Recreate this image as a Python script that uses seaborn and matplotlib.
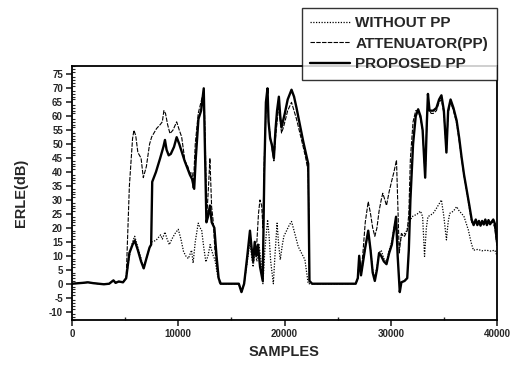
import numpy as np
import pandas as pd
import matplotlib
matplotlib.use("Agg")
import matplotlib.pyplot as plt
import seaborn as sns
from matplotlib.ticker import MultipleLocator

# ---- data ----
base_x = [0, 1000, 1500, 2000, 2500, 3000, 3500, 3900, 4100, 4400, 4800, 5100]
base_y = [0.0, 0.3, 0.5, 0.2, 0.0, -0.2, 0.0, 1.2, 0.3, 0.8, 0.5, 2.0]

proposed_x = base_x + [5400, 5700, 5900, 6200, 6500, 6750, 7000, 7300, 7450, 7550, 7900, 8300, 8600,
    8750, 8900, 9100, 9300, 9600, 9850, 10100, 10350, 10600, 10900, 11100, 11300, 11500, 11650,
    11900, 12150, 12400, 12500, 12650, 12800, 12980, 13150, 13400, 13600, 13800, 14000, 15000,
    15700, 15950, 16200, 16500, 16750, 16900, 17050, 17200, 17350, 17500, 17700, 17850, 17950,
    18100, 18250, 18400, 18500, 18650, 18800, 19000, 19150, 19300, 19470, 19600, 19720, 19900,
    20030, 20300, 20660, 20900, 21130, 21450, 21760, 22000, 22230, 22300, 22350, 22600, 26700,
    26900, 27030, 27200, 27400, 27600, 27880, 28100, 28300, 28500, 28700, 28900, 29100, 29350,
    29600, 29850, 30100, 30300, 30500, 30650, 30850, 31000, 31300, 31550, 31700, 31850, 32100,
    32350, 32580, 32800, 33000, 33240, 33400, 33500, 33650, 33800, 34000, 34300, 34550, 34770,
    35000, 35240, 35400, 35630, 35900, 36200, 36450, 36660, 36900, 37150, 37400, 37620, 37800,
    38000, 38150, 38300, 38450, 38600, 38750, 38900, 39050, 39200, 39350, 39500, 39650, 39800, 40000]
proposed_y = base_y + [11, 14, 15.5, 12, 8, 5.5, 9, 13, 14, 36.5, 40, 45, 49,
    51.5, 48, 46, 46.5, 49, 52.5, 50, 47, 44, 41, 39, 37.5, 34, 45,
    59, 62, 70, 50, 22, 24, 28, 22, 20, 10, 2, 0, 0,
    0, -3, 0, 10, 19, 13, 8, 15, 10, 14, 6, 3, 1,
    40, 65, 70, 58, 52, 50, 45, 55, 62, 67, 60, 56, 59,
    61, 66, 69.5, 67, 63, 57, 51, 47, 43, 20, 1, 0, 0,
    2, 10, 3, 8, 13, 19, 12, 4, 1, 5, 11, 10, 8,
    7, 11, 14, 19, 24, 10, -3, 0.5, 1, 2, 12, 30, 50,
    60, 62.5, 60, 55, 38, 58, 68, 62, 62, 62, 63, 66, 67.5,
    62, 47, 62, 66, 63, 58.5, 52, 45.5, 39, 33.6, 28, 22.9, 21,
    23, 21, 22.5, 20.8, 22.5, 21.2, 23, 21, 22.8, 21.3, 22.2, 23, 21.5, 15]

attenuator_x = base_x + [5400, 5700, 5830, 6000, 6200, 6500, 6710, 7000, 7300, 7500, 7960, 8300,
    8500, 8650, 8800, 9000, 9220, 9500, 9850, 10100, 10320, 10630, 10900, 11100, 11300, 11410,
    11600, 11880, 12200, 12420, 12550, 12670, 12850, 12980, 13140, 13300, 13450, 13700, 13920,
    15000, 15700, 15950, 16200, 16500, 16750, 16900, 17050, 17220, 17400, 17550, 17690, 17850,
    17970, 18100, 18250, 18410, 18500, 18630, 18800, 19000, 19150, 19300, 19470, 19600, 19720,
    19900, 20030, 20300, 20660, 20900, 21130, 21450, 21760, 22000, 22230, 22300, 22350, 22600,
    26700, 26900, 27030, 27200, 27400, 27600, 27880, 28100, 28300, 28500, 28700, 28900, 29100,
    29250, 29450, 29600, 29850, 30100, 30300, 30540, 30650, 30800, 31000, 31300, 31550, 31700,
    31850, 32100, 32350, 32580, 32800, 33000, 33240, 33400, 33500, 33650, 33800, 34000, 34300,
    34550, 34770, 35000, 35240, 35400, 35630, 35900, 36200, 36450, 36660, 36900, 37150, 37400,
    37620, 37800, 38000, 38400, 38800, 39200, 39600, 39800, 40000]
attenuator_y = base_y + [35, 52, 55, 53, 47, 45, 38, 42, 50, 52.6, 55.6, 57,
    58, 62, 61, 57, 53.8, 55, 58, 55, 52.6, 44, 42, 39.5, 40, 34,
    50, 61, 66, 69, 50, 23, 35, 45, 27.6, 22, 12, 4, 0,
    0, 0, -3, 0, 9, 17, 12, 9, 14, 15, 25, 30, 28,
    20, 45, 62, 67, 58, 54, 49, 44, 52, 58, 64, 58, 54,
    56, 58, 62, 65, 62, 59, 54, 49, 45, 40, 20, 1, 0,
    0, 2, 9, 3, 12, 22, 29.4, 25, 20, 17, 20, 26, 30,
    32.4, 30, 28, 33, 37, 40, 44.3, 30, 11, 18, 17, 19, 25,
    45, 58, 62, 62, 59, 55, 38, 58, 66, 62, 61, 61, 62,
    65, 66, 61, 47, 61, 65, 62, 57.5, 51, 45, 38.5, 33, 27,
    22, 21.5, 22, 21.5, 22.3, 21.8, 22, 20, 13]

without_x = base_x + [5400, 5700, 5900, 6200, 6500, 6710, 7000, 7300, 7500, 7900, 8340, 8500,
    8750, 8950, 9160, 9400, 9700, 10000, 10250, 10500, 10700, 10950, 11100, 11250, 11400, 11600,
    11880, 12050, 12200, 12400, 12600, 12800, 13000, 13140, 13300, 13450, 13700, 13900, 15000,
    15700, 15950, 16200, 16500, 16750, 16900, 17050, 17220, 17400, 17600, 17800, 17970, 18150,
    18410, 18550, 18700, 18950, 19100, 19300, 19450, 19600, 19800, 19940, 20200, 20450, 20660,
    20900, 21290, 21600, 21920, 22230, 22600, 26700, 26900, 27030, 27200, 27400, 27600, 27880,
    28100, 28300, 28500, 28700, 28900, 29100, 29350, 29600, 29850, 30100, 30300, 30500, 30650,
    30850, 31000, 31300, 31500, 31750, 32000, 32500, 32800, 33000, 33180, 33350, 33500, 33990,
    34300, 34770, 35000, 35240, 35400, 35550, 35900, 36200, 36450, 36660, 36900, 37300, 37550,
    37780, 38200, 38600, 39000, 39400, 39800, 40000]
without_y = base_y + [10, 15, 17, 13, 9, 5.6, 9, 13, 15, 15.5, 17.5, 16,
    18.5, 16, 14, 16, 18, 19.5, 16, 11.5, 10, 9, 10.5, 12, 7.4, 15,
    21.7, 20, 19.3, 13, 7.8, 10, 14, 12, 10, 8.6, 3, 0, 0,
    0, -3, 0, 8, 15, 10, 6, 12, 8, 14, 8, 0, 12,
    22.9, 17, 8, 0, 10, 21.7, 14, 8.6, 14, 17, 19, 21, 22.3,
    19, 13.3, 11, 8.6, 0, 0, 0, 2, 9, 3, 8, 13, 18,
    12, 5, 2, 6, 11, 12, 9, 8, 12, 15, 20, 23, 15,
    14, 17, 18, 19, 22, 24, 25, 26, 24, 9.8, 20, 24, 25.2,
    27, 30, 24, 15.7, 22, 25.2, 26, 27.6, 26, 25.2, 24, 19.3, 15,
    12, 12.3, 11.8, 12, 11.7, 12, 10]

labels = ["WITHOUT PP", "ATTENUATOR(PP)", "PROPOSED PP"]
x_ticks = [0, 10000, 20000, 30000, 40000]
x_ticklabels = ["0", "10000", "20000", "30000", "40000"]
y_ticks = list(range(-10, 80, 5))

# ---- plot ----
sns.set_style("ticks")
plt.rcParams['font.family'] = ['Liberation Sans', 'DejaVu Sans']

fig = plt.figure(figsize=(5.11, 3.65), dpi=100)
ax = fig.add_axes([72 / 511, 45 / 365, 425 / 511, 254 / 365])

sns.lineplot(x=without_x, y=without_y, ax=ax, color="black", lw=0.9,
             linestyle=(0, (1, 1.2)), label=labels[0], sort=False)
sns.lineplot(x=attenuator_x, y=attenuator_y, ax=ax, color="black", lw=0.8,
             linestyle=(0, (4, 1.2)), label=labels[1], sort=False)
sns.lineplot(x=proposed_x, y=proposed_y, ax=ax, color="black", lw=1.7,
             linestyle="-", label=labels[2], sort=False)

ax.set_xlim(0, 40000)
ax.set_ylim(-13, 78)
ax.set_xticks(x_ticks)
ax.set_xticklabels(x_ticklabels, fontsize=7, fontweight="bold")
ax.set_yticks(y_ticks)
ax.set_yticklabels([str(v) for v in y_ticks], fontsize=7, fontweight="bold")
ax.xaxis.set_minor_locator(MultipleLocator(5000))
ax.yaxis.set_minor_locator(MultipleLocator(1))
ax.tick_params(axis="both", which="major", direction="out", length=4.5, width=1.2, pad=2)
ax.tick_params(axis="y", which="minor", direction="in", length=2, width=0.8)
ax.tick_params(axis="x", which="minor", direction="in", length=2.5, width=1)
for s in ax.spines.values():
    s.set_linewidth(1.3)
    s.set_color("black")

ax.set_xlabel("SAMPLES", fontsize=10.5, fontweight="bold", labelpad=4)
ax.set_ylabel("ERLE(dB)", fontsize=10.5, fontweight="bold", labelpad=15)

ax.legend_.remove()
leg = fig.legend(*ax.get_legend_handles_labels(), loc="upper left",
                 bbox_to_anchor=(302 / 511, 1 - 8 / 365), frameon=True, fancybox=False,
                 edgecolor="black", fontsize=11, handlelength=2.6, handletextpad=0.35,
                 borderpad=0.55, labelspacing=0.42, borderaxespad=0)
leg.get_frame().set_linewidth(1.0)
for t in leg.get_texts():
    t.set_fontweight("bold")

fig.savefig("out.png", dpi=100)
